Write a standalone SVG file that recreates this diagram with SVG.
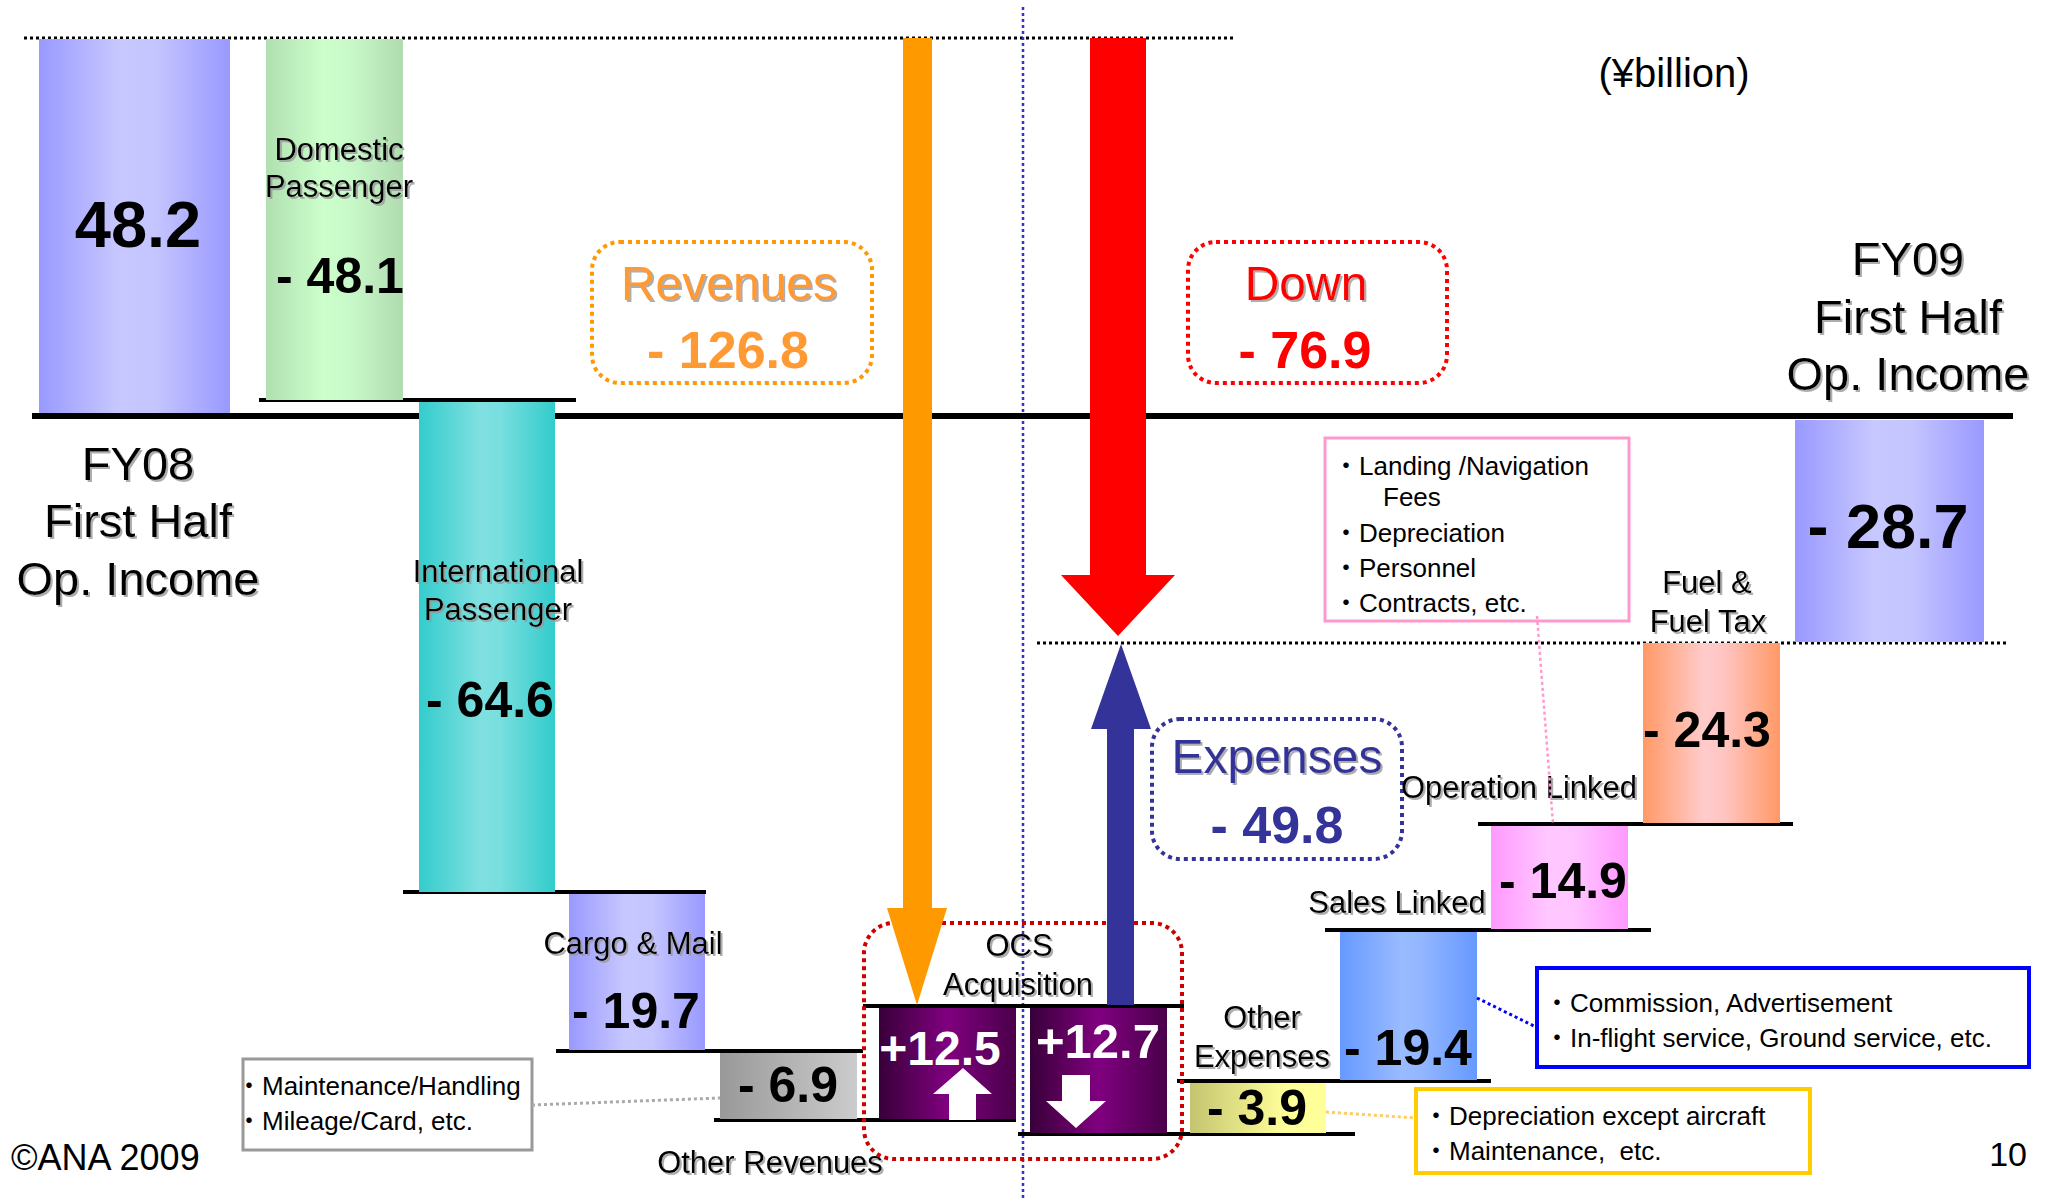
<svg xmlns="http://www.w3.org/2000/svg" width="2051" height="1200" viewBox="0 0 2051 1200">
<style>
text{font-family:"Liberation Sans",Arial,"Noto Sans CJK JP",sans-serif;fill:#000}
.lbl{font-size:31px;filter:url(#sh)}
.big{font-size:47px;filter:url(#sh)}
.num{font-weight:bold;font-size:50px}
.note{font-size:26px}
.c{text-anchor:middle}
.step{stroke:#000;stroke-width:4}
.dot{fill:none;stroke-dasharray:3 3}
.rbox{fill:none;stroke-width:4;stroke-dasharray:4 4}
</style>
<defs>
<filter id="sh" x="-10%" y="-10%" width="130%" height="140%"><feDropShadow dx="2" dy="2" stdDeviation="0.6" flood-color="#999" flood-opacity="0.8"/></filter>
<linearGradient id="gBlue"><stop offset="0" stop-color="#9999ff"/><stop offset="0.42" stop-color="#c8c8ff"/><stop offset="0.62" stop-color="#c4c4ff"/><stop offset="1" stop-color="#9999ff"/></linearGradient>
<linearGradient id="gGreen"><stop offset="0" stop-color="#b0dfb0"/><stop offset="0.42" stop-color="#ccffcc"/><stop offset="0.62" stop-color="#c8f8c8"/><stop offset="1" stop-color="#b0dcb0"/></linearGradient>
<linearGradient id="gTeal"><stop offset="0" stop-color="#33cccc"/><stop offset="0.45" stop-color="#80e0e0"/><stop offset="0.6" stop-color="#78dede"/><stop offset="1" stop-color="#33cccc"/></linearGradient>
<linearGradient id="gGray"><stop offset="0" stop-color="#999999"/><stop offset="1" stop-color="#cccccc"/></linearGradient>
<linearGradient id="gPurple"><stop offset="0" stop-color="#380038"/><stop offset="0.5" stop-color="#800080"/><stop offset="1" stop-color="#4a004a"/></linearGradient>
<linearGradient id="gFuel"><stop offset="0" stop-color="#ff9966"/><stop offset="0.45" stop-color="#ffcccc"/><stop offset="0.6" stop-color="#ffc4c0"/><stop offset="1" stop-color="#ff9966"/></linearGradient>
<linearGradient id="gPink"><stop offset="0" stop-color="#ff99ff"/><stop offset="0.42" stop-color="#ffc8ff"/><stop offset="0.62" stop-color="#ffc4ff"/><stop offset="1" stop-color="#ff99ff"/></linearGradient>
<linearGradient id="gSky"><stop offset="0" stop-color="#6699ff"/><stop offset="0.45" stop-color="#99bbff"/><stop offset="0.6" stop-color="#92b6ff"/><stop offset="1" stop-color="#6699ff"/></linearGradient>
<linearGradient id="gYellow"><stop offset="0" stop-color="#c4c470"/><stop offset="0.7" stop-color="#ffff99"/><stop offset="1" stop-color="#ffff99"/></linearGradient>
</defs>
<rect width="2051" height="1200" fill="#fff"/>

<g id="guides">
<line x1="24" y1="38" x2="1236" y2="38" class="dot" stroke="#000" stroke-width="3"/>
<line x1="1037" y1="643" x2="2006" y2="643" class="dot" stroke="#000" stroke-width="3"/>
<line x1="1023" y1="7" x2="1023" y2="1200" class="dot" stroke="#3333cc" stroke-width="2.5"/>
<line x1="32" y1="416" x2="2013" y2="416" stroke="#000" stroke-width="6"/>
</g>

<g id="steps">
<line class="step" x1="259" y1="400" x2="576" y2="400"/>
<line class="step" x1="403" y1="892" x2="706" y2="892"/>
<line class="step" x1="556" y1="1051" x2="863" y2="1051"/>
<line class="step" x1="714" y1="1120" x2="1016" y2="1120"/>
<line class="step" x1="863" y1="1006" x2="1184" y2="1006"/>
<line class="step" x1="1018" y1="1134" x2="1355" y2="1134"/>
<line class="step" x1="1177" y1="1081" x2="1491" y2="1081"/>
<line class="step" x1="1325" y1="930" x2="1651" y2="930"/>
<line class="step" x1="1478" y1="824" x2="1793" y2="824"/>
</g>

<g id="fy08">
<rect x="39" y="39" width="191" height="374" fill="url(#gBlue)"/>
<text x="138" y="247" class="c" font-weight="bold" font-size="65">48.2</text>
<text x="138" y="480" class="big c">FY08</text>
<text x="138" y="537" class="big c">First Half</text>
<text x="138" y="595" class="big c">Op. Income</text>
</g>

<g id="domestic">
<rect x="266" y="39" width="137" height="361" fill="url(#gGreen)"/>
<text x="339" y="160" class="lbl c">Domestic</text>
<text x="339" y="197" class="lbl c">Passenger</text>
<text x="340" y="293" class="num c" font-size="49">- 48.1</text>
</g>

<g id="international">
<rect x="419" y="402" width="136" height="490" fill="url(#gTeal)"/>
<text x="498" y="582" class="lbl c">International</text>
<text x="498" y="620" class="lbl c">Passenger</text>
<text x="490" y="717" class="num c">- 64.6</text>
</g>

<g id="cargo">
<rect x="569" y="894" width="136" height="156" fill="url(#gBlue)"/>
<text x="633" y="954" class="lbl c" font-size="32">Cargo &amp; Mail</text>
<text x="636" y="1028" class="num c" font-size="51">- 19.7</text>
</g>

<g id="other-revenues">
<rect x="720" y="1053" width="137" height="66" fill="url(#gGray)"/>
<text x="788" y="1102" class="num c">- 6.9</text>
<text x="770" y="1173" class="lbl c">Other Revenues</text>
</g>

<g id="note-other-revenues">
<rect x="243" y="1059" width="289" height="91" fill="#fff" stroke="#999" stroke-width="3"/>
<text x="236" y="1095" class="note">・Maintenance/Handling</text>
<text x="236" y="1130" class="note">・Mileage/Card, etc.</text>
</g>

<g id="revenues-box">
<rect x="592" y="242" width="280" height="141" rx="28" class="rbox" stroke="#ff9900"/>
<text x="729" y="300" class="c" font-size="48" style="fill:#ff9933;filter:url(#sh)">Revenues</text>
<text x="728" y="368" class="c" font-size="52" font-weight="bold" style="fill:#ff9933">- 126.8</text>
</g>

<g id="ocs">
<rect x="864" y="923" width="318" height="236" rx="30" class="rbox" stroke="#cc0000"/>
<text x="1019" y="956" class="lbl c" font-size="29">OCS</text>
<text x="1018" y="995" class="lbl c" font-size="30">Acquisition</text>
<rect x="879" y="1008" width="137" height="111" fill="url(#gPurple)"/>
<rect x="1030" y="1008" width="137" height="125" fill="url(#gPurple)"/>
<text x="940" y="1065" class="c" font-size="48" font-weight="bold" style="fill:#fff">+12.5</text>
<text x="1098" y="1058" class="c" font-size="49" font-weight="bold" style="fill:#fff">+12.7</text>
<polygon points="963,1068 992,1094 976,1094 976,1120 949,1120 949,1094 933,1094" fill="#fff"/>
<polygon points="1062,1075 1090,1075 1090,1101 1106,1101 1076,1128 1046,1101 1062,1101" fill="#fff"/>
</g>

<g id="down-box">
<rect x="1188" y="242" width="259" height="141" rx="28" class="rbox" stroke="#ff0000"/>
<text x="1306" y="300" class="c" font-size="48" style="fill:#ff0000;filter:url(#sh)">Down</text>
<text x="1305" y="368" class="c" font-size="52" font-weight="bold" style="fill:#ff0000">- 76.9</text>
</g>

<g id="expenses-box">
<rect x="1152" y="719" width="250" height="140" rx="28" class="rbox" stroke="#333399"/>
<text x="1277" y="773" class="c" font-size="48" style="fill:#333399;filter:url(#sh)">Expenses</text>
<text x="1277" y="843" class="c" font-size="52" font-weight="bold" style="fill:#333399">- 49.8</text>
</g>

<g id="other-expenses">
<rect x="1190" y="1083" width="136" height="50" fill="url(#gYellow)"/>
<text x="1262" y="1028" class="lbl c">Other</text>
<text x="1262" y="1067" class="lbl c">Expenses</text>
<text x="1257" y="1125" class="num c">- 3.9</text>
</g>

<g id="note-other-expenses">
<rect x="1416" y="1089" width="394" height="84" fill="#fff" stroke="#ffcc00" stroke-width="4"/>
<text x="1423" y="1125" class="note">・Depreciation except aircraft</text>
<text x="1423" y="1160" class="note" xml:space="preserve">・Maintenance,  etc.</text>
</g>

<g id="sales-linked">
<rect x="1340" y="932" width="137" height="148" fill="url(#gSky)"/>
<text x="1397" y="913" class="lbl c">Sales Linked</text>
<text x="1408" y="1065" class="num c" font-size="49">- 19.4</text>
</g>

<g id="note-sales">
<rect x="1537" y="968" width="492" height="99" fill="#fff" stroke="#0000ff" stroke-width="4"/>
<text x="1544" y="1012" class="note">・Commission, Advertisement</text>
<text x="1544" y="1047" class="note">・In-flight service, Ground service, etc.</text>
</g>

<g id="operation-linked">
<rect x="1491" y="826" width="137" height="103" fill="url(#gPink)"/>
<text x="1519" y="798" class="lbl c">Operation Linked</text>
<text x="1563" y="898" class="num c" font-size="51">- 14.9</text>
</g>

<g id="note-operation">
<rect x="1325" y="438" width="304" height="183" fill="#fff" stroke="#ff99cc" stroke-width="3"/>
<text x="1333" y="475" class="note">・Landing /Navigation</text>
<text x="1383" y="506" class="note">Fees</text>
<text x="1333" y="542" class="note">・Depreciation</text>
<text x="1333" y="577" class="note">・Personnel</text>
<text x="1333" y="612" class="note">・Contracts, etc.</text>
</g>

<g id="fuel">
<rect x="1643" y="643" width="137" height="180" fill="url(#gFuel)"/>
<text x="1707" y="593" class="lbl c">Fuel &amp;</text>
<text x="1708" y="632" class="lbl c">Fuel Tax</text>
<text x="1707" y="747" class="num c">- 24.3</text>
</g>

<g id="fy09">
<rect x="1795" y="420" width="189" height="222" fill="url(#gBlue)"/>
<text x="1888" y="548" class="c" font-weight="bold" font-size="63">- 28.7</text>
<text x="1908" y="275" class="big c">FY09</text>
<text x="1908" y="333" class="big c">First Half</text>
<text x="1908" y="390" class="big c">Op. Income</text>
</g>

<g id="connectors">
<polygon points="903,38 932,38 932,908 947,908 917,1005 887,908 903,908" fill="#ff9900"/>
<polygon points="1090,38 1146,38 1146,575 1175,575 1118,636 1061,575 1090,575" fill="#ff0000"/>
<polygon points="1107,1005 1107,729 1091,729 1121,644 1151,729 1134,729 1134,1005" fill="#333399"/>
<line x1="532" y1="1105" x2="720" y2="1098" class="dot" stroke="#aaaaaa" stroke-width="3"/>
<line x1="1537" y1="616" x2="1553" y2="824" class="dot" stroke="#ff99cc" stroke-width="2.5"/>
<line x1="1477" y1="998" x2="1536" y2="1027" class="dot" stroke="#0000ff" stroke-width="3"/>
<line x1="1326" y1="1112" x2="1416" y2="1118" class="dot" stroke="#ffcc66" stroke-width="3"/>
</g>

<g id="labels">
<text x="1674" y="87" class="c" font-size="40">(¥billion)</text>
<text x="11" y="1170" font-size="36">©ANA 2009</text>
<text x="2027" y="1166" font-size="34" text-anchor="end">10</text>
</g>
</svg>
